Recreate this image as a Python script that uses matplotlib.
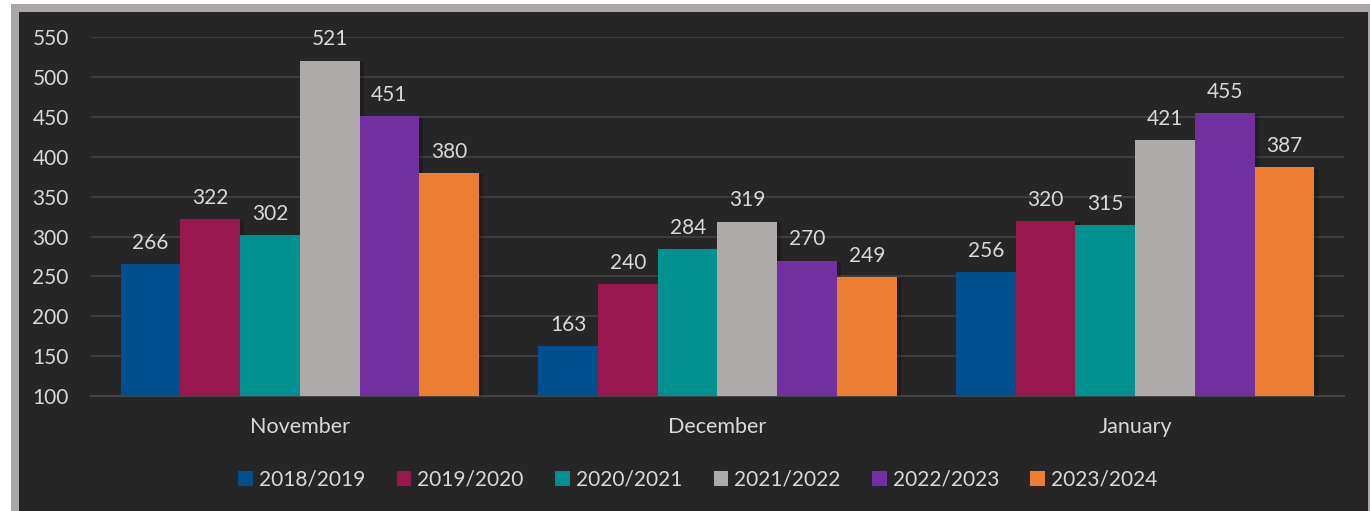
import matplotlib
matplotlib.use("Agg")
import matplotlib.pyplot as plt
import numpy as np
from matplotlib.patches import Rectangle
import matplotlib.patheffects as pe

categories = ["November", "December", "January"]
seasons = ["2018/2019", "2019/2020", "2020/2021", "2021/2022", "2022/2023", "2023/2024"]
v_2018 = [266, 163, 256]
v_2019 = [322, 240, 320]
v_2020 = [302, 284, 315]
v_2021 = [521, 319, 421]
v_2022 = [451, 270, 455]
v_2023 = [380, 249, 387]
series = [v_2018, v_2019, v_2020, v_2021, v_2022, v_2023]
colors = ["#00508F", "#98174D", "#009090", "#ADAAA9", "#7030A0", "#ED7D31"]
yticks = [100, 150, 200, 250, 300, 350, 400, 450, 500, 550]

W, H = 1370, 511
fig = plt.figure(figsize=(W / 100, H / 100), dpi=100)
fig.patch.set_facecolor("white")
txt = "#D9D9D9"
font = "Lato"
fs = 15

# frame
fig.patches.append(Rectangle((11 / W, 0), (1370 - 11) / W, (H - 4) / H,
                             transform=fig.transFigure, facecolor="#ABA7A6", edgecolor="none", zorder=-5))
fig.patches.append(Rectangle((19 / W, 0), (1368 - 19) / W, (H - 12) / H,
                             transform=fig.transFigure, facecolor="#262626", edgecolor="none", zorder=-4))

ax = fig.add_axes([91 / W, 1 - 396 / H, (1344 - 91) / W, (396 - 37.5) / H])
ax.set_facecolor("none")
ax.set_ylim(100, 550)
x = np.arange(len(categories))
ax.set_xlim(-0.5, len(categories) - 0.5)
n = len(series)
bw = 0.143
all_bars = []
for i, (vals, c, lab) in enumerate(zip(series, colors, seasons)):
    pos = x + (i - (n - 1) / 2) * bw
    bars = ax.bar(pos, np.array(vals) - 100, bottom=100, width=bw, color=c, label=lab, zorder=3)
    all_bars.append(bars)
    for p, v in zip(pos, vals):
        ax.annotate(str(v), (p, v), xytext=(0, 8), textcoords="offset points", ha="center", va="bottom",
                    color=txt, fontsize=fs, family=font)

ax.set_yticks(yticks)
ax.set_yticklabels([str(t) for t in yticks], family=font, fontsize=fs, color=txt)
ax.tick_params(axis="y", length=0, pad=16)
ax.set_xticks(x)
ax.set_xticklabels(categories, family=font, fontsize=fs + 0.5, color=txt)
ax.tick_params(axis="x", length=0, pad=15)
ax.grid(axis="y", color="#3D3D3D", linewidth=1.5, zorder=0)
for s in ["top", "right", "left"]:
    ax.spines[s].set_visible(False)
ax.spines["bottom"].set_color("#444444")
ax.spines["bottom"].set_linewidth(1.5)

leg = fig.legend(loc="center", bbox_to_anchor=(698 / W, 1 - 480 / H), ncol=6, frameon=False,
                 prop={"family": font, "size": fs}, handlelength=0.7, handleheight=0.7,
                 handletextpad=0.3, columnspacing=1.5)
for t in leg.get_texts():
    t.set_color(txt)

for bars in all_bars:
    for b in bars:
        b.set_path_effects([pe.SimplePatchShadow(offset=(3, -1), shadow_rgbFace="black", alpha=0.22), pe.Normal()])

fig.savefig("out.png", dpi=100, facecolor=fig.get_facecolor())
